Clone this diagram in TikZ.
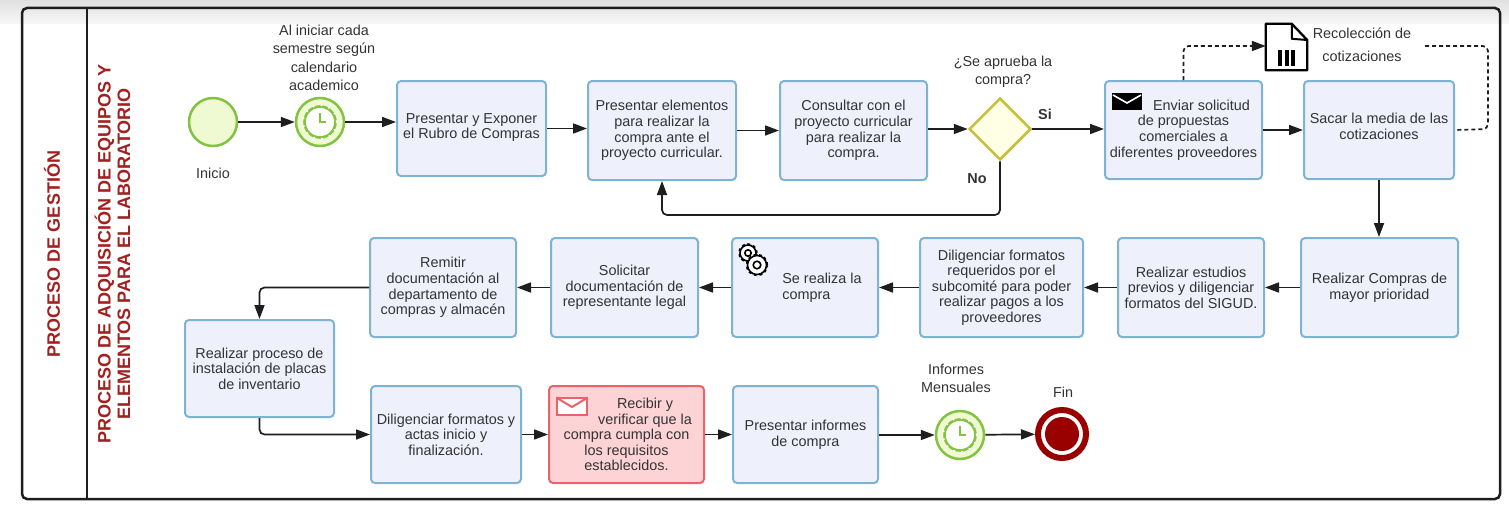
\documentclass[tikz,border=0pt]{standalone}
\usepackage{fontspec}
\setmainfont{Liberation Sans}
\usetikzlibrary{arrows.meta,shapes.geometric,calc}
\definecolor{ink}{HTML}{333333}
\definecolor{framec}{HTML}{1E1E1E}
\definecolor{titlered}{HTML}{A32020}
\definecolor{bluel}{HTML}{7FB3D3}
\definecolor{bluef}{HTML}{EEF0FC}
\definecolor{redl}{HTML}{E8646A}
\definecolor{redf}{HTML}{FDD3D5}
\definecolor{greenl}{HTML}{84C341}
\definecolor{greenf}{HTML}{EFFAD2}
\definecolor{goldl}{HTML}{C6C03C}
\definecolor{goldf}{HTML}{FFFFE6}
\definecolor{endred}{HTML}{990000}
\tikzset{
  every node/.style={font=\fontsize{14.4}{15.6}\selectfont, text=ink},
  taskbox/.style={draw=bluel, fill=bluef, line width=2pt, rounded corners=4pt, align=center, inner sep=1pt, minimum height=99pt},
  redbox/.style={taskbox, draw=redl, fill=redf},
  startev/.style={circle, draw=greenl, fill=greenf, line width=2.5pt, minimum size=48pt, inner sep=0pt},
  timerev/.style={startev},
  endev/.style={circle, draw=endred, fill=white, line width=6pt, minimum size=48pt, inner sep=0pt},
  gate/.style={diamond, draw=goldl, fill=goldf, line width=2.5pt, minimum width=62pt, minimum height=62pt, inner sep=0pt},
  txt/.style={align=center, inner sep=0pt},
  flow/.style={draw=framec, line width=1.7pt, rounded corners=5pt, -{Triangle[length=14pt,width=10pt]}},
  dashflow/.style={flow, dash pattern=on 4pt off 3pt},
  title/.style={rotate=90, align=center, text=titlered, inner sep=0pt, font=\bfseries\fontsize{18}{19.5}\selectfont},
  clockicon/.pic={
    \draw[greenl, line width=2.6pt, fill=white] (0,0) circle (15.5pt);
    \draw[white, line width=2pt, dash pattern=on 1.6pt off 6.52pt] (0,0) circle (17pt);
    \draw[greenl, line width=1.5pt] (0,-9) -- (0,0) -- (6,0);
  },
  gearicon/.pic={
    \draw[black, line width=3.5pt, dash pattern=on 2.6pt off 2.6pt] (0,0) circle (#1);
    \draw[black, fill=white, line width=1.6pt] (0,0) circle (#1);
    \draw[black, fill=white, line width=1.6pt] (0,0) circle (0.4*#1);
  },
}
\begin{document}
\begin{tikzpicture}[x=1pt,y=-1pt]
\useasboundingbox (0,0) rectangle (1509,511);
\fill[white] (0,0) rectangle (1509,511);
\shade[top color=black!12, bottom color=black!3] (0,0) rectangle (1509,24);
% frame
\node[draw=framec, line width=2.5pt, rounded corners=5pt, minimum width=1478pt, minimum height=491pt, inner sep=0pt] (frame) at (761,253.5) {};
\coordinate (divt) at (87,8);
\coordinate (divb) at (87,499);
\draw[framec, line width=2.5pt] (divt) -- (divb);
\node[title] (t1title) at (52,254) {PROCESO DE GESTIÓN};
\node[title] (t2title) at (112.5,254) {PROCESO DE ADQUISICIÓN DE EQUIPOS Y\\ELEMENTOS PARA EL LABORATORIO};
% row 1
\node[startev] (start) at (213,122) {};
\node[timerev] (tm1) at (320,122) {};
\pic at (tm1) {clockicon};
\node[taskbox, minimum width=149pt, minimum height=95pt] (b1) at (471.5,128.5) {\mbox{}\\[-8pt]Presentar y Exponer\\el Rubro de Compras};
\node[taskbox, minimum width=148pt] (b2) at (662,130.5) {Presentar elementos\\para realizar la\\compra ante el\\proyecto curricular.};
\node[taskbox, minimum width=147pt] (b3) at (853.5,130.5) {Consultar con el\\proyecto curricular\\para realizar la\\compra.};
\node[gate] (gw) at (1000,129) {};
\node[taskbox, minimum width=157pt, minimum height=98pt] (b4) at (1183.5,130) {\hspace*{36pt}Enviar solicitud\\de propuestas\\comerciales a\\diferentes proveedores};
\node[taskbox, minimum width=150pt, minimum height=98pt] (b5) at (1379,130) {Sacar la media de las\\cotizaciones\\[-8pt]\mbox{}};
% row 2
\node[taskbox, minimum width=157pt] (r6) at (1379.5,287.5) {Realizar Compras de\\mayor prioridad};
\node[taskbox, minimum width=146pt] (r5) at (1191,287.5) {Realizar estudios\\previos y diligenciar\\formatos del SIGUD.};
\node[taskbox, minimum width=163pt] (r4) at (1001.5,287.5) {Diligenciar formatos\\requeridos por el\\subcomité para poder\\realizar pagos a los\\proveedores};
\node[taskbox, minimum width=146pt, align=left] (r3) at (805,287.5) {\hspace*{34pt}Se realiza la\\\hspace*{34pt}compra};
\node[taskbox, minimum width=147pt] (r2) at (624.5,287.5) {Solicitar\\documentación de\\representante legal};
\node[taskbox, minimum width=146pt] (r1) at (443,287.5) {Remitir\\documentación al\\departamento de\\compras y almacén};
% row 3
\node[taskbox, minimum width=149pt, minimum height=97pt] (proc) at (259.5,368.5) {Realizar proceso de\\instalación de placas\\de inventario};
\node[taskbox, minimum width=150pt, minimum height=97pt] (dil) at (446,434.5) {Diligenciar formatos y\\actas inicio y\\finalización.};
\node[redbox, minimum width=155pt, minimum height=97pt] (rec) at (626.5,434.5) {\hspace*{37pt}Recibir y\\\hspace*{37pt}verificar que la\\compra cumpla con\\los requisitos\\establecidos.};
\node[taskbox, minimum width=145pt, minimum height=97pt] (pres) at (805.5,434.5) {Presentar informes\\de compra};
\node[timerev] (tm2) at (960,435) {};
\pic at (tm2) {clockicon};
\node[endev] (fin) at (1062,434) {};
\node[circle, fill=endred, minimum size=34pt, inner sep=0pt] (findot) at (fin) {};
% labels
\node[txt, font=\fontsize{14.4}{18.3}\selectfont] (l1) at (324,58) {Al iniciar cada\\semestre según\\calendario\\academico};
\node[txt] (l2) at (213,173) {Inicio};
\node[txt, font=\fontsize{14.4}{18}\selectfont] (l3) at (1003,72) {¿Se aprueba la\\compra?};
\node[txt, font=\bfseries\fontsize{14.4}{16}\selectfont] (l4) at (1045,114) {Si};
\node[txt, font=\bfseries\fontsize{14.4}{16}\selectfont] (l5) at (977,179) {No};
\node[txt, font=\fontsize{14.4}{18}\selectfont] (l6) at (956,378) {Informes\\Mensuales};
\node[txt] (l7) at (1063,392) {Fin};
\node[txt, font=\fontsize{14.4}{23}\selectfont] (l8) at (1362,44.5) {Recolección de\\cotizaciones};
% document
\node[minimum width=41pt, minimum height=46pt, inner sep=0pt] (doc) at (1286.5,47) {};
\draw[black, fill=white, line width=2.3pt, line join=round] (doc.north west) -- ++(26,0) -- (doc.east |- 0,40) -- (doc.south east) -- (doc.south west) -- cycle;
\draw[black, line width=2pt, line join=round] ($(doc.north west)+(26,0)$) -- ++(0,15) -- (doc.east |- 0,40);
\foreach \dx in {-6.5,0,6.5}{\fill[black] ($(doc.center)+(\dx-2,3)$) rectangle ++(4,16);}
% envelope, black
\fill[black] (1112,93) rectangle (1142,110);
\draw[white, line width=1.6pt] (1113,95) -- (1127,103) -- (1141,95);
% envelope, red
\draw[redl, fill=white, line width=2pt] (557,397.5) rectangle (587,414.5);
\draw[redl, line width=2pt] (557,398) -- (572,407) -- (587,398);
% gears
\pic at (748,253) {gearicon=8pt};
\pic at (757,265) {gearicon=9.5pt};
% connectors
\draw[flow] (start) -- (tm1);
\draw[flow] (tm1) -- (tm1 -| b1.west);
\draw[flow] (b1.east) -- (b1.east -| b2.west);
\draw[flow] (b2.east) -- (b2.east -| b3.west);
\draw[flow] (b3.east |- gw) -- (gw.west);
\draw[flow] (gw.east) -- (gw.east -| b4.west);
\draw[flow] (b4.east) -- (b4.east -| b5.west);
\draw[flow] (b5.south) -- (b5.south |- r6.north);
\draw[flow] (r6) -- (r5);
\draw[flow] (r5) -- (r4);
\draw[flow] (r4) -- (r3);
\draw[flow] (r3) -- (r2);
\draw[flow] (r2) -- (r1);
\draw[flow] (r1.west) -- (proc.north |- r1.west) -- (proc.north);
\draw[flow] (proc.south) -- (proc.south |- dil.west) -- (dil.west);
\draw[flow] (dil) -- (rec);
\draw[flow] (rec) -- (pres);
\draw[flow] (pres.east |- tm2) -- (tm2);
\draw[flow] (tm2) -- (fin);
\draw[flow] (gw.south) -- (gw.south |- 0,215) -- (b2.south |- 0,215) -- (b2.south);
\coordinate (dashend) at (1425,46);
\draw[dashflow] (b4.north) -- (b4.north |- 0,46) -- (doc.west |- 0,46);
\draw[flow, dash pattern=on 4pt off 3pt, -] (dashend) -- (1488,46) -- (1488,129) -- (b5.east);
\end{tikzpicture}
\end{document}
